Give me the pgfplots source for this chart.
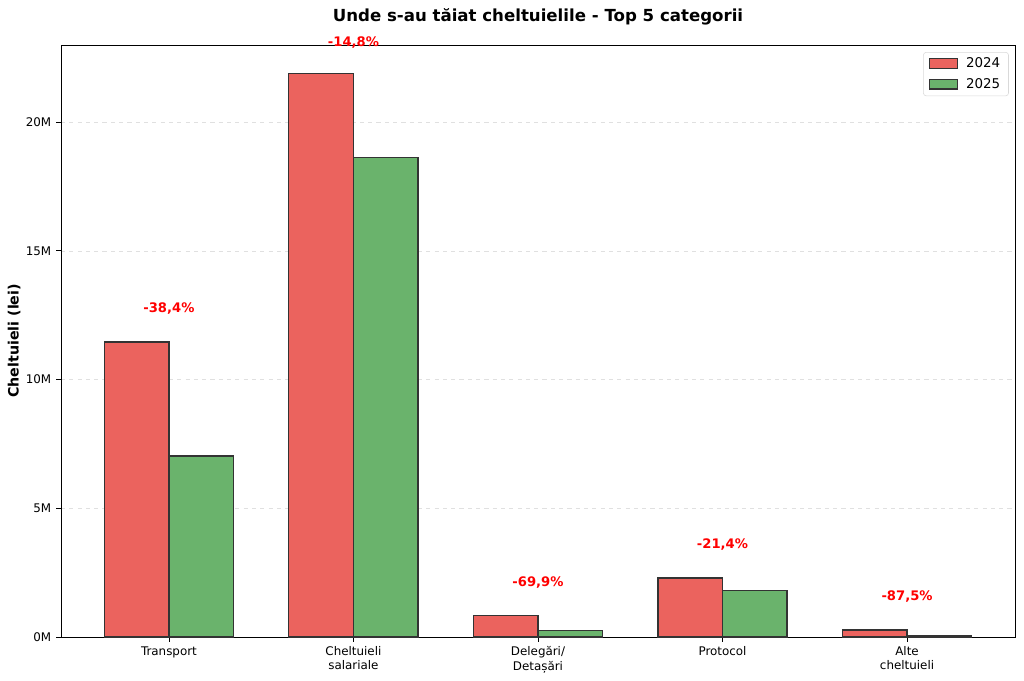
\documentclass[border=0pt]{standalone}
\usepackage{pgfplots}
\pgfplotsset{compat=1.18}
\usepackage{fontspec}
\setmainfont{DejaVu Sans}
\definecolor{cred}{RGB}{235,99,94}
\definecolor{cgreen}{RGB}{106,179,108}
\begin{document}
\begin{tikzpicture}
\useasboundingbox (-43.9bp,-31.7bp) rectangle (693.4bp,458.6bp);
\begin{axis}[
  scale only axis,
  width=686.9bp, height=426.2bp,
  at={(0,0)}, anchor=south west,
  xmin=-0.585, xmax=4.585,
  ymin=0, ymax=23.0,
  clip=false,
  xtick={0,1,2,3,4},
  xticklabels={Transport,{Cheltuieli\\salariale},{Delegări/\\Detașări},Protocol,{Alte\\cheltuieli}},
  xticklabel style={align=center, font=\fontsize{8.6}{10.3}\selectfont},
  ytick={0,5,10,15,20},
  yticklabels={0M,5M,10M,15M,20M},
  yticklabel style={font=\fontsize{8.6}{10}\selectfont},
  /pgf/number format/assume math mode=true,
  tick align=outside,
  xtick pos=bottom, ytick pos=left,
  major tick length=3.5bp,
  tick style={black, line width=0.6pt},
  axis line style={black, line width=0.6pt},
  ymajorgrids,
  grid style={dashed, black!12, line width=0.5pt},
  title={Unde s-au tăiat cheltuielile - Top 5 categorii},
  title style={font=\fontsize{12}{14}\bfseries, at={(axis description cs:0.5,1)}, anchor=center, yshift=14.4bp},
  ylabel={Cheltuieli (lei)},
  ylabel style={font=\fontsize{10.3}{12}\bfseries, at={(axis description cs:0,0.5)}, anchor=center, yshift=33.8bp},
  legend style={at={(0.9935,0.988)}, anchor=north east, draw=black!15, rounded corners=2pt,
    font=\fontsize{9.7}{11}\selectfont, row sep=2pt, column sep=4pt, inner xsep=4pt, inner ysep=2pt},
  legend cell align=left,
  legend image code/.code={\draw[#1, sharp corners] (0cm,-0.12cm) rectangle (0.7cm,0.13cm);},
]
\addplot[ybar, bar width=0.35, bar shift=-0.175, fill=cred, draw=black!80, line width=0.9pt]
  coordinates {(0,11.46) (1,21.90) (2,0.82) (3,2.29) (4,0.27)};
\addlegendentry{2024}
\addplot[ybar, bar width=0.35, bar shift=0.175, fill=cgreen, draw=black!80, line width=0.9pt]
  coordinates {(0,7.03) (1,18.64) (2,0.25) (3,1.79) (4,0.034)};
\addlegendentry{2025}
\addplot[draw=none, mark=none, nodes near coords, point meta=explicit symbolic,
  nodes near coords style={anchor=center, text=red, font=\fontsize{9.5}{11}\bfseries}, forget plot]
  coordinates {(0,12.74) [-38,4\%] (1,23.1) [-14,8\%] (2,2.10) [-69,9\%] (3,3.57) [-21,4\%] (4,1.55) [-87,5\%]};
\end{axis}
\end{tikzpicture}
\end{document}
